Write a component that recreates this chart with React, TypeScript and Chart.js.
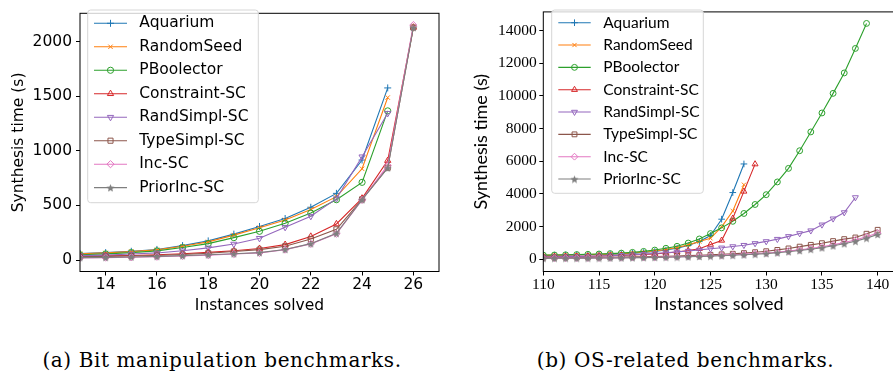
import React, { useEffect, useRef } from 'react';
import { Chart, registerables } from 'chart.js';
import { drawPoint } from 'chart.js/helpers';

Chart.register(...registerables);

// ---------- shared series info ----------
const seriesNames = ['Aquarium', 'RandomSeed', 'PBoolector', 'Constraint-SC', 'RandSimpl-SC', 'TypeSimpl-SC', 'Inc-SC', 'PriorInc-SC'];
const seriesColors = ['#1f77b4', '#ff7f0e', '#2ca02c', '#d62728', '#9467bd', '#8c564b', '#e377c2', '#7f7f7f'];

// ---------- (a) Bit manipulation benchmarks ----------
const bitX = [13, 14, 15, 16, 17, 18, 19, 20, 21, 22, 23, 24, 25, 26];
const bitAquarium = [60, 68, 80, 97, 132, 175, 237, 307, 380, 483, 610, 915, 1575];
const bitRandomSeed = [58, 65, 77, 93, 126, 166, 228, 296, 367, 462, 580, 835, 1487];
const bitPBoolector = [48, 56, 68, 84, 114, 150, 205, 263, 337, 430, 552, 711, 1365];
const bitConstraintSC = [35, 38, 42, 48, 58, 70, 85, 105, 141, 216, 330, 565, 910, 2130];
const bitRandSimplSC = [40, 45, 55, 65, 85, 111, 146, 199, 300, 401, 562, 945, 1343];
const bitTypeSimplSC = [30, 33, 37, 42, 50, 62, 78, 95, 126, 193, 281, 555, 845, 2128];
const bitIncSC = [20, 22, 25, 30, 37, 45, 55, 65, 95, 148, 240, 550, 866, 2150];
const bitPriorIncSC = [22, 24, 28, 33, 40, 48, 58, 68, 97, 150, 245, 552, 843, 2128];
const bitXTicks = [14, 16, 18, 20, 22, 24, 26];
const bitYTicks = [0, 500, 1000, 1500, 2000];

// ---------- (b) OS-related benchmarks ----------
const osX = [110, 111, 112, 113, 114, 115, 116, 117, 118, 119, 120, 121, 122, 123, 124, 125, 126, 127, 128, 129, 130, 131, 132, 133, 134, 135, 136, 137, 138, 139, 140];
const osAquarium = [230, 240, 250, 260, 275, 290, 305, 330, 360, 410, 470, 560, 680, 840, 1080, 1450, 2450, 4080, 5830];
const osRandomSeed = [240, 250, 260, 270, 285, 300, 320, 345, 380, 430, 500, 600, 720, 880, 1080, 1280, 1980, 2950, 4560];
const osPBoolector = [250, 260, 270, 285, 300, 320, 345, 375, 420, 480, 560, 670, 790, 990, 1240, 1570, 1920, 2320, 2800, 3350, 3950, 4730, 5560, 6640, 7790, 8950, 10150, 11400, 12900, 14430];
const osConstraintSC = [150, 155, 165, 175, 185, 200, 215, 235, 260, 290, 330, 380, 440, 530, 640, 900, 1150, 2500, 4150, 5820];
const osRandSimplSC = [140, 150, 160, 170, 185, 200, 220, 245, 275, 310, 350, 400, 450, 500, 570, 640, 700, 780, 860, 970, 1090, 1230, 1400, 1580, 1750, 2110, 2480, 2860, 3780];
const osTypeSimplSC = [90, 95, 100, 105, 110, 118, 125, 135, 145, 155, 170, 185, 200, 220, 245, 270, 300, 335, 375, 430, 490, 570, 660, 770, 880, 980, 1110, 1230, 1330, 1560, 1800];
const osIncSC = [60, 62, 65, 68, 72, 78, 85, 92, 100, 110, 120, 135, 150, 170, 190, 215, 240, 270, 300, 340, 380, 430, 500, 570, 660, 760, 880, 1020, 1180, 1380, 1600];
const osPriorIncSC = [55, 58, 60, 63, 67, 72, 78, 85, 92, 100, 110, 122, 135, 150, 170, 190, 215, 240, 270, 305, 345, 395, 460, 530, 610, 700, 820, 950, 1100, 1290, 1520];
const osXTicks = [110, 115, 120, 125, 130, 135, 140];
const osYTicks = [0, 2000, 4000, 6000, 8000, 10000, 12000, 14000];

const xTitle = 'Instances solved';
const yTitle = 'Synthesis time (s)';
const captionA = '(a) Bit manipulation benchmarks.';
const captionB = '(b) OS-related benchmarks.';

// ---------- marker styles ----------
function makeStar(color: string, size: number): HTMLCanvasElement {
  const c = document.createElement('canvas');
  c.width = size;
  c.height = size;
  const g = c.getContext('2d')!;
  const cx = size / 2;
  const R = size / 2 - 0.3;
  const r = R * 0.45;
  g.beginPath();
  for (let k = 0; k < 10; k++) {
    const ang = -Math.PI / 2 + (k * Math.PI) / 5;
    const rad = k % 2 ? r : R;
    g.lineTo(cx + rad * Math.cos(ang), cx + 0.6 + rad * Math.sin(ang));
  }
  g.closePath();
  g.fillStyle = color;
  g.fill();
  return c;
}

type Marker = { style: any; rotation: number; filled: boolean; radius: number };
function markersFor(scale: number): Marker[] {
  return [
    { style: 'cross', rotation: 0, filled: false, radius: 3.5 * scale },
    { style: 'crossRot', rotation: 0, filled: false, radius: 3.1 * scale },
    { style: 'circle', rotation: 0, filled: false, radius: 3.1 * scale },
    { style: 'triangle', rotation: 0, filled: false, radius: 3.6 * scale },
    { style: 'triangle', rotation: 180, filled: false, radius: 3.6 * scale },
    { style: 'rect', rotation: 0, filled: false, radius: 3.6 * scale },
    { style: 'rectRot', rotation: 0, filled: false, radius: 3.6 * scale },
    { style: makeStar(seriesColors[7], Math.round(9 * scale)), rotation: 0, filled: true, radius: 3.5 * scale },
  ];
}

function buildDatasets(xs: number[], series: number[][], markers: Marker[]) {
  return series.map((vals, i) => ({
    label: seriesNames[i],
    data: vals.map((v, k) => ({ x: xs[k], y: v })),
    borderColor: seriesColors[i],
    backgroundColor: seriesColors[i],
    borderWidth: 1.1,
    pointStyle: markers[i].style,
    pointRotation: markers[i].rotation,
    pointRadius: markers[i].radius,
    pointBorderWidth: 1,
    pointBorderColor: seriesColors[i],
    pointBackgroundColor: markers[i].filled ? seriesColors[i] : 'rgba(0,0,0,0)',
    tension: 0,
    order: series.length - i,
  }));
}

type LegendLayout = {
  box: [number, number, number, number];
  row0: number;
  rowGap: number;
  line: [number, number];
  textX: number;
  font: string;
};

function framePlugin() {
  return {
    id: 'frame',
    afterDatasetsDraw(chart: any) {
      const { ctx, chartArea: a } = chart;
      ctx.save();
      ctx.strokeStyle = '#000';
      ctx.lineWidth = 1;
      ctx.strokeRect(a.left, a.top, a.right - a.left, a.bottom - a.top);
      ctx.restore();
    },
  };
}

function legendPlugin(layout: LegendLayout, markers: Marker[]) {
  return {
    id: 'boxLegend',
    afterDraw(chart: any) {
      const ctx: CanvasRenderingContext2D = chart.ctx;
      const [bx, by, bw, bh] = layout.box;
      ctx.save();
      const r = 3;
      ctx.beginPath();
      ctx.moveTo(bx + r, by);
      ctx.lineTo(bx + bw - r, by);
      ctx.arcTo(bx + bw, by, bx + bw, by + r, r);
      ctx.lineTo(bx + bw, by + bh - r);
      ctx.arcTo(bx + bw, by + bh, bx + bw - r, by + bh, r);
      ctx.lineTo(bx + r, by + bh);
      ctx.arcTo(bx, by + bh, bx, by + bh - r, r);
      ctx.lineTo(bx, by + r);
      ctx.arcTo(bx, by, bx + r, by, r);
      ctx.closePath();
      ctx.fillStyle = 'rgba(255,255,255,0.8)';
      ctx.fill();
      ctx.strokeStyle = '#d6d6d6';
      ctx.lineWidth = 1;
      ctx.stroke();
      seriesNames.forEach((name, i) => {
        const y = layout.row0 + i * layout.rowGap;
        const [x1, x2] = layout.line;
        ctx.strokeStyle = seriesColors[i];
        ctx.lineWidth = 1.1;
        ctx.beginPath();
        ctx.moveTo(x1, y);
        ctx.lineTo(x2, y);
        ctx.stroke();
        ctx.fillStyle = markers[i].filled ? seriesColors[i] : 'rgba(0,0,0,0)';
        ctx.strokeStyle = seriesColors[i];
        ctx.lineWidth = 1;
        drawPoint(ctx, {
          pointStyle: markers[i].style,
          rotation: markers[i].rotation,
          radius: markers[i].radius,
          borderWidth: 1,
        } as any, (x1 + x2) / 2, y);
        ctx.fillStyle = '#000';
        ctx.font = layout.font;
        ctx.textBaseline = 'middle';
        ctx.textAlign = 'left';
        ctx.fillText(name, layout.textX, y);
      });
      ctx.restore();
    },
  };
}

type PanelSpec = {
  xs: number[];
  series: number[][];
  xMin: number;
  xMax: number;
  yMin: number;
  yMax: number;
  xTicks: number[];
  yTicks: number[];
  tickFont: { family: string; size: number };
  titleFontX: { family: string; size: number };
  titleFontY: { family: string; size: number };
  yAxisWidth: number;
  xAxisHeight: number;
  yTitlePad: number;
  xTitlePad: number;
  yTickPad: number;
  padRight: number;
  padTop: number;
  legend: LegendLayout;
  markerScale: number;
};

const plainTick = (v: any) => String(v);

function Panel({ spec, width, height }: { spec: PanelSpec; width: number; height: number }) {
  const ref = useRef<HTMLCanvasElement | null>(null);
  useEffect(() => {
    if (!ref.current) return;
    const markers = markersFor(spec.markerScale);
    const chart = new Chart(ref.current, {
      type: 'line',
      data: { datasets: buildDatasets(spec.xs, spec.series, markers) as any },
      options: {
        responsive: false,
        animation: false,
        events: [],
        layout: { padding: { left: 0, right: spec.padRight, top: spec.padTop, bottom: 0 } },
        plugins: { legend: { display: false }, tooltip: { enabled: false }, title: { display: false } },
        scales: {
          x: {
            type: 'linear',
            min: spec.xMin,
            max: spec.xMax,
            afterBuildTicks: (s: any) => {
              s.ticks = spec.xTicks.map((v) => ({ value: v }));
            },
            afterFit: (s: any) => {
              s.height = spec.xAxisHeight;
            },
            grid: { display: true, drawOnChartArea: false, drawTicks: true, tickLength: 4, color: '#000', lineWidth: 1 },
            border: { display: false },
            ticks: { color: '#000', font: spec.tickFont, padding: 0, maxRotation: 0, autoSkip: false, callback: plainTick },
            title: { display: true, text: xTitle, color: '#000', font: spec.titleFontX, padding: { top: 0, bottom: spec.xTitlePad } },
          },
          y: {
            type: 'linear',
            min: spec.yMin,
            max: spec.yMax,
            afterBuildTicks: (s: any) => {
              s.ticks = spec.yTicks.map((v) => ({ value: v }));
            },
            afterFit: (s: any) => {
              s.width = spec.yAxisWidth;
            },
            grid: { display: true, drawOnChartArea: false, drawTicks: true, tickLength: 4, color: '#000', lineWidth: 1 },
            border: { display: false },
            ticks: { color: '#000', font: spec.tickFont, padding: spec.yTickPad, autoSkip: false, callback: plainTick },
            title: { display: true, text: yTitle, color: '#000', font: spec.titleFontY, padding: { top: spec.yTitlePad, bottom: 0 } },
          },
        },
      } as any,
      plugins: [framePlugin(), legendPlugin(spec.legend, markers)] as any,
    });
    return () => chart.destroy();
  }, [spec]);
  return <canvas ref={ref} width={width} height={height} style={{ width, height, display: 'block' }} />;
}

const bitSpec: PanelSpec = {
  xs: bitX,
  series: [bitAquarium, bitRandomSeed, bitPBoolector, bitConstraintSC, bitRandSimplSC, bitTypeSimplSC, bitIncSC, bitPriorIncSC],
  xMin: 13,
  xMax: 27,
  yMin: -105,
  yMax: 2258,
  xTicks: bitXTicks,
  yTicks: bitYTicks,
  tickFont: { family: 'DejaVu Sans', size: 15.5 },
  titleFontX: { family: 'DejaVu Sans', size: 15.5 },
  titleFontY: { family: 'DejaVu Sans', size: 15.5 },
  yAxisWidth: 80,
  xAxisHeight: 43.5,
  yTitlePad: 9.3,
  xTitlePad: 0,
  yTickPad: 4,
  padRight: 7,
  padTop: 2.3,
  legend: {
    box: [87.7, 10, 170.6, 192.7],
    row0: 23.3,
    rowGap: 23.48,
    line: [94, 127],
    textX: 139.3,
    font: '15.5px "DejaVu Sans"',
  },
  markerScale: 1,
};

const osSpec: PanelSpec = {
  xs: osX,
  series: [osAquarium, osRandomSeed, osPBoolector, osConstraintSC, osRandSimplSC, osTypeSimplSC, osIncSC, osPriorIncSC],
  xMin: 110,
  xMax: 141.5,
  yMin: -751,
  yMax: 15135,
  xTicks: osXTicks,
  yTicks: osYTicks,
  tickFont: { family: 'Liberation Serif', size: 15.5 },
  titleFontX: { family: 'Lato', size: 18 },
  titleFontY: { family: 'Lato', size: 18 },
  yAxisWidth: 97.3,
  xAxisHeight: 43.5,
  yTitlePad: 24.7,
  xTitlePad: 0,
  yTickPad: 2.6,
  padRight: 11.6,
  padTop: 2.3,
  legend: {
    box: [105.7, 10, 151.6, 183.3],
    row0: 22.7,
    rowGap: 22.33,
    line: [112.3, 144.7],
    textX: 157.3,
    font: '15.5px Lato',
  },
  markerScale: 0.95,
};

const captionStyle: React.CSSProperties = {
  position: 'absolute',
  top: 350,
  width: 420,
  textAlign: 'center',
  fontFamily: '"DejaVu Serif", serif',
  fontSize: 20,
  lineHeight: '20px',
  letterSpacing: '0.6px',
  color: '#000',
  whiteSpace: 'nowrap',
};

export default function App() {
  return (
    <div style={{ position: 'absolute', left: 0, top: 0, width: 893, height: 375, overflow: 'hidden', background: '#fff' }}>
      <div style={{ position: 'absolute', left: 0, top: 0 }}>
        <Panel spec={bitSpec} width={446} height={315} />
      </div>
      <div style={{ position: 'absolute', left: 446, top: 0 }}>
        <Panel spec={osSpec} width={460} height={315} />
      </div>
      <div style={{ ...captionStyle, left: 222 - 210 }}>{captionA}</div>
      <div style={{ ...captionStyle, left: 685.5 - 210 }}>{captionB}</div>
    </div>
  );
}
